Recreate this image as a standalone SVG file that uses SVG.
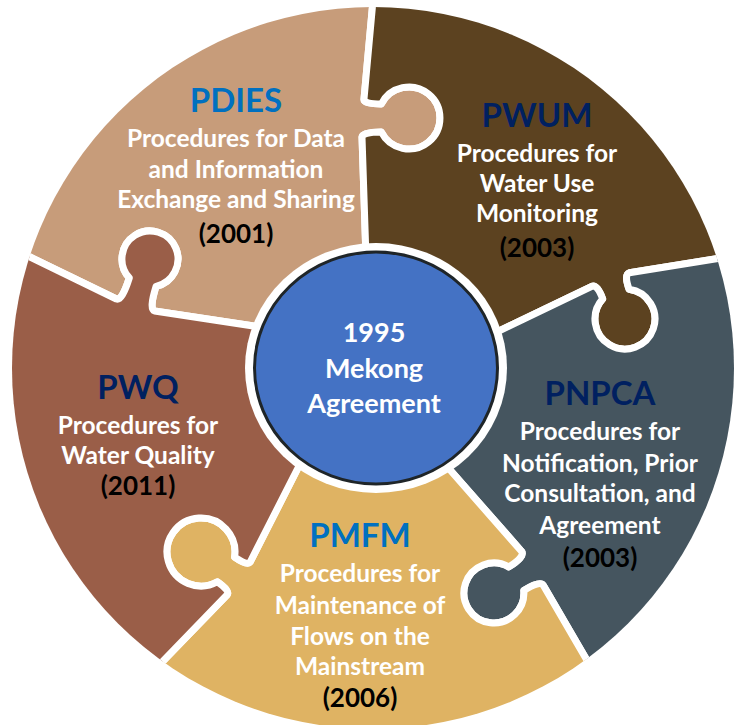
<svg xmlns="http://www.w3.org/2000/svg" width="734" height="725" viewBox="0 0 734 725">
<defs>
<clipPath id="disk"><circle cx="373" cy="368" r="361"/></clipPath>
<style>
.piece{stroke:#fff;stroke-width:7;stroke-linejoin:round;clip-path:url(#disk)}
.t{font-family:Lato,"Open Sans","Liberation Sans",sans-serif;font-weight:700;text-anchor:middle}
.title{font-size:33px}
.navy{fill:#002060}
.blue{fill:#0070C0}
.body{font-size:24.5px;fill:#fff}
.year{font-size:26px;fill:#000}
.ctr{font-size:27px;fill:#fff}
</style>
</defs>
<rect width="734" height="725" fill="#fff"/>

<g id="pdies">
<path class="piece" fill="#C79C7A" d="M375,368 L300,333 L154.6,311 Q148.9,309.2 156.1,286.3 A28,28 0 1 0 129.3,277.9 Q122.1,300.8 116.4,299 L-99.6,194 L-100,-120 L384,-120 L364,99 Q363.5,104 381.3,104 A31,31 0 1 1 381.3,132 Q362.5,132 362,137 L366,258 Z"/>
<text class="t title blue" x="236" y="112">PDIES</text>
<text class="t body" x="236" y="147">Procedures for Data</text>
<text class="t body" x="236" y="178">and Information</text>
<text class="t body" x="236" y="208">Exchange and Sharing</text>
<text class="t year" x="236" y="243">(2001)</text>
</g>

<g id="pwum">
<path class="piece" fill="#5C4220" d="M375,368 L366,258 L362,137 Q362.5,132 381.3,132 A31,31 0 1 0 381.3,104 Q363.5,104 364,99 L384,-120 L900,-120 L876,233 L629.4,272.7 Q623.8,274.7 629.1,289.3 A30,30 0 1 1 602.7,298.9 Q597.4,284.3 591.8,286.3 L470,345 Z"/>
<text class="t title navy" x="537" y="127">PWUM</text>
<text class="t body" x="537" y="162">Procedures for</text>
<text class="t body" x="537" y="192">Water Use</text>
<text class="t body" x="537" y="222">Monitoring</text>
<text class="t year" x="537" y="257">(2003)</text>
</g>

<g id="pnpca">
<path class="piece" fill="#45555F" d="M375,368 L470,345 L591.8,286.3 Q597.4,284.3 602.7,298.9 A30,30 0 1 0 629.1,289.3 Q623.8,274.7 629.4,272.7 L876,233 L900,800 L638,748 L543.3,585.3 Q540,580.2 523.8,590.5 A30,30 0 1 1 508.8,566.9 Q525,556.6 521.7,551.5 L426,442.5 Z"/>
<text class="t title navy" x="600" y="405">PNPCA</text>
<text class="t body" x="600" y="440">Procedures for</text>
<text class="t body" x="600" y="472">Notification, Prior</text>
<text class="t body" x="600" y="502">Consultation, and</text>
<text class="t body" x="600" y="534">Agreement</text>
<text class="t year" x="600" y="567">(2003)</text>
</g>

<g id="pmfm">
<path class="piece" fill="#DFB363" d="M375,368 L426,442.5 L521.7,551.5 Q525,556.6 508.8,566.9 A30,30 0 1 0 523.8,590.5 Q540,580.2 543.3,585.3 L638,748 L373,900 L77,750 L227.2,594.8 Q230.1,590.7 217.4,581.8 A34,34 0 1 1 234.6,557.2 Q247.3,566.1 250.2,562 L327.2,410.5 Z"/>
<text class="t title blue" x="360" y="547">PMFM</text>
<text class="t body" x="360" y="582">Procedures for</text>
<text class="t body" x="360" y="614">Maintenance of</text>
<text class="t body" x="360" y="645">Flows on the</text>
<text class="t body" x="360" y="675">Mainstream</text>
<text class="t year" x="360" y="707">(2006)</text>
</g>

<g id="pwq">
<path class="piece" fill="#9A5E48" d="M375,368 L327.2,410.5 L250.2,562 Q247.3,566.1 234.6,557.2 A34,34 0 1 0 217.4,581.8 Q230.1,590.7 227.2,594.8 L77,750 L-150,750 L-99.6,194 L116.4,299 Q122.1,300.8 129.3,277.9 A28,28 0 1 1 156.1,286.3 Q148.9,309.2 154.6,311 L300,333 Z"/>
<text class="t title navy" x="138" y="399">PWQ</text>
<text class="t body" x="138" y="434">Procedures for</text>
<text class="t body" x="138" y="464">Water Quality</text>
<text class="t year" x="138" y="495">(2011)</text>
</g>

<g id="center">
<ellipse cx="376" cy="368" rx="131" ry="125" fill="#fff"/>
<ellipse cx="376" cy="368" rx="121.5" ry="116" fill="#4472C4" stroke="#1f2528" stroke-width="3"/>
<text class="t ctr" x="374" y="342">1995</text>
<text class="t ctr" x="374" y="378">Mekong</text>
<text class="t ctr" x="374" y="413">Agreement</text>
</g>
</svg>
